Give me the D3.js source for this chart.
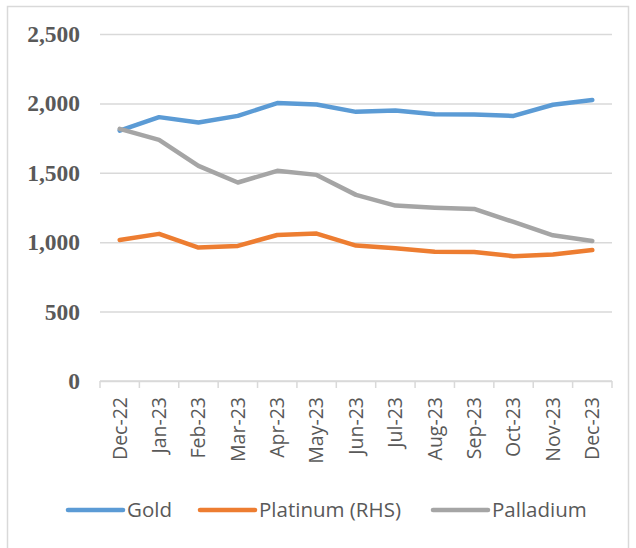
<!DOCTYPE html>
<html>
<head>
<meta charset="utf-8">
<script src="https://cdn.jsdelivr.net/npm/d3@7"></script>
<style>
  body { margin: 0; background: #fff; }
</style>
</head>
<body>
<div id="myChart"></div>
<script>
const months = ["Dec-22", "Jan-23", "Feb-23", "Mar-23", "Apr-23", "May-23", "Jun-23",
    "Jul-23", "Aug-23", "Sep-23", "Oct-23", "Nov-23", "Dec-23"];
const gold = [1804, 1901, 1862, 1910, 2002, 1992, 1939, 1949, 1922, 1920, 1910, 1990, 2025];
const platinum = [1016, 1060, 961, 973, 1052, 1062, 976, 957, 932, 930, 899, 911, 944];
const palladium = [1817, 1737, 1550, 1430, 1514, 1485, 1341, 1264, 1249, 1240, 1146, 1050, 1009];
const yTicks = [0, 500, 1000, 1500, 2000, 2500];
const seriesNames = ["Gold", "Platinum (RHS)", "Palladium"];

const size = {
    width: 636,
    height: 548,
    plot: { left: 100, right: 612, top: 34, bottom: 381 },
}

const colors = ["#5B9BD5", "#ED7D31", "#A5A5A5"];

const drawChart = function(size) {
    const svg = d3.select("#myChart")
    .append("svg")
    .attr("width", size.width)
    .attr("height", size.height);

    // outer chart border
    svg.append("rect")
    .attr("x", 7.5).attr("y", 6.5)
    .attr("width", 621).attr("height", 560)
    .attr("fill", "none")
    .attr("stroke", "#D9D9D9")
    .attr("stroke-width", 1.5);

    const x = d3.scaleBand()
    .domain(months)
    .range([size.plot.left, size.plot.right]);

    const y = d3.scaleLinear()
    .domain([0, 2500])
    .range([size.plot.bottom, size.plot.top]);

    // gridlines + y labels
    const yAxis = svg.append("g")
    .attr("transform", `translate(${size.plot.left}, 0)`)
    .call(d3.axisLeft(y)
        .tickValues(yTicks)
        .tickSize(-(size.plot.right - size.plot.left))
        .tickPadding(20)
        .tickFormat(d3.format(",")));
    yAxis.select(".domain").remove();
    yAxis.selectAll("line").attr("stroke", "#D9D9D9").attr("stroke-width", 1.5);
    yAxis.selectAll("text")
    .attr("fill", "#595959")
    .style("font-family", "'Liberation Serif', 'Times New Roman', serif")
    .style("font-weight", "bold")
    .style("font-size", "23.5px");

    // x axis with ticks between categories
    const xAxis = svg.append("g")
    .attr("transform", `translate(0, ${size.plot.bottom})`);
    xAxis.append("line")
    .attr("x1", size.plot.left).attr("x2", size.plot.right)
    .attr("stroke", "#D9D9D9").attr("stroke-width", 1.5);
    const edges = months.map((m) => x(m)).concat([size.plot.right]);
    xAxis.selectAll(".tick-mark")
    .data(edges)
    .enter().append("line")
    .attr("x1", (d) => d).attr("x2", (d) => d)
    .attr("y1", 0).attr("y2", 7)
    .attr("stroke", "#D9D9D9").attr("stroke-width", 1.5);
    xAxis.selectAll(".tick-label")
    .data(months)
    .enter().append("text")
    .attr("transform", (d) => `translate(${x(d) + x.bandwidth() / 2}, 16) rotate(-90)`)
    .attr("text-anchor", "end")
    .attr("dy", "0.35em")
    .attr("fill", "#595959")
    .style("font-family", "'Open Sans', sans-serif")
    .style("font-size", "19.5px")
    .text((d) => d);

    // lines
    const line = d3.line()
    .x((d, i) => x(months[i]) + x.bandwidth() / 2)
    .y((d) => y(d));

    const series = [gold, platinum, palladium];
    svg.selectAll(".series")
    .data(series)
    .enter().append("path")
    .attr("d", (d) => line(d))
    .attr("fill", "none")
    .attr("stroke", (d, i) => colors[i])
    .attr("stroke-width", 4.5)
    .attr("stroke-linejoin", "round")
    .attr("stroke-linecap", "round");

    // legend
    const legendX = [68, 200, 433];
    const legend = svg.append("g");
    const items = legend.selectAll("g")
    .data(seriesNames)
    .enter().append("g")
    .attr("transform", (d, i) => `translate(${legendX[i]}, 510)`);
    items.append("line")
    .attr("x1", 0).attr("x2", 55)
    .attr("stroke", (d, i) => colors[i])
    .attr("stroke-width", 4.5)
    .attr("stroke-linecap", "round");
    items.append("text")
    .attr("x", 59)
    .attr("dy", "0.35em")
    .attr("fill", "#595959")
    .style("font-family", "'Open Sans', sans-serif")
    .style("font-size", "20.5px")
    .text((d) => d);
}

window.onload = () => {
    drawChart(size);
};
</script>
</body>
</html>
